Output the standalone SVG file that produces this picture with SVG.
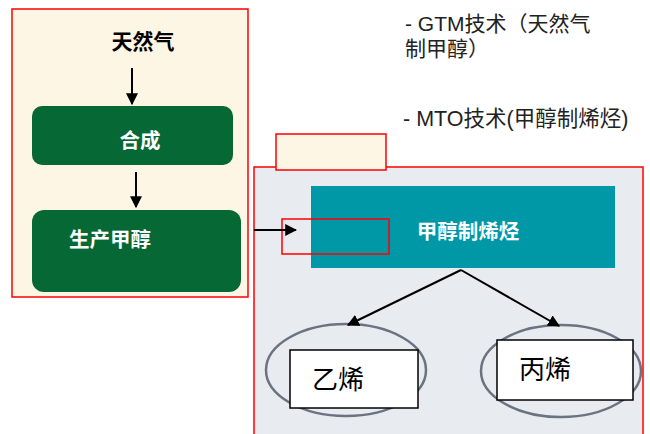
<svg xmlns="http://www.w3.org/2000/svg" width="650" height="434" viewBox="0 0 650 434">
<style>
.cjk{font-family:"Liberation Sans","Noto Sans CJK SC",sans-serif}
.red{fill:none;stroke:#ff0000;stroke-width:1.5}
.conn{stroke:#000;stroke-width:2;fill:none}
.green{fill:#066835}
.wt{fill:#fff;font-size:20.5px;font-weight:bold}
</style>
<defs>
<marker id="ah" viewBox="0 0 10 10" refX="9" refY="5" markerWidth="6" markerHeight="6" orient="auto" markerUnits="strokeWidth">
<path d="M0,0 L10,5 L0,10 z" fill="#000"/>
</marker>
</defs>
<rect width="650" height="434" fill="#fff"/>
<g id="panel-left">
<rect x="12" y="9" width="236" height="288" fill="#fdf6e4" stroke="#ff0000" stroke-width="1.5"/>
</g>
<g id="panel-right">
<rect x="254" y="167" width="389" height="270" fill="#e8ebf0" stroke="#ff0000" stroke-width="1.5"/>
</g>
<g id="small-cream">
<rect x="276" y="134" width="110" height="36" fill="#fdf6e4" stroke="#ff0000" stroke-width="1.5"/>
</g>
<g id="natural-gas">
<text x="143" y="49" class="cjk" font-size="21" font-weight="bold" text-anchor="middle" fill="#000">天然气</text>
</g>
<g id="synthesis">
<rect x="32" y="106" width="201" height="59" rx="10" class="green"/>
<text x="140" y="148" class="cjk wt" text-anchor="middle">合成</text>
</g>
<g id="methanol">
<rect x="32" y="210" width="209" height="82" rx="12" class="green"/>
<text x="69" y="247" class="cjk wt">生产甲醇</text>
</g>
<g id="mto">
<rect x="311" y="186" width="304" height="82" fill="#0097a7"/>
<text x="468" y="239" class="cjk wt" text-anchor="middle">甲醇制烯烃</text>
</g>
<g id="red-outline">
<rect x="282" y="219" width="107" height="35" class="red"/>
</g>
<g id="ethylene">
<ellipse cx="346" cy="370" rx="80" ry="46" fill="none" stroke="#6b7280" stroke-width="2.5"/>
<rect x="290" y="350" width="128" height="58" fill="#fff" stroke="#000" stroke-width="1.5"/>
<text x="312" y="389" class="cjk" font-size="26" fill="#000">乙烯</text>
</g>
<g id="propylene">
<ellipse cx="561" cy="371" rx="80" ry="46" fill="none" stroke="#6b7280" stroke-width="2.5"/>
<rect x="497" y="340" width="136" height="60" fill="#fff" stroke="#000" stroke-width="1.5"/>
<text x="519" y="379" class="cjk" font-size="26" fill="#000">丙烯</text>
</g>
<g id="notes" class="cjk" fill="#222">
<text x="405" y="31" font-size="21">- GTM技术（天然气</text>
<text x="405" y="56" font-size="21">制甲醇）</text>
<text x="403" y="126" font-size="21.5">- MTO技术(甲醇制烯烃)</text>
</g>
<g id="connectors">
<line x1="132" y1="68" x2="132" y2="104" class="conn" marker-end="url(#ah)"/>
<line x1="136" y1="172" x2="136" y2="207" class="conn" marker-end="url(#ah)"/>
<line x1="254" y1="230" x2="296" y2="230" class="conn" marker-end="url(#ah)"/>
<line x1="461" y1="270" x2="348" y2="325" class="conn" marker-end="url(#ah)"/>
<line x1="461" y1="270" x2="559" y2="326" class="conn" marker-end="url(#ah)"/>
</g>
</svg>
